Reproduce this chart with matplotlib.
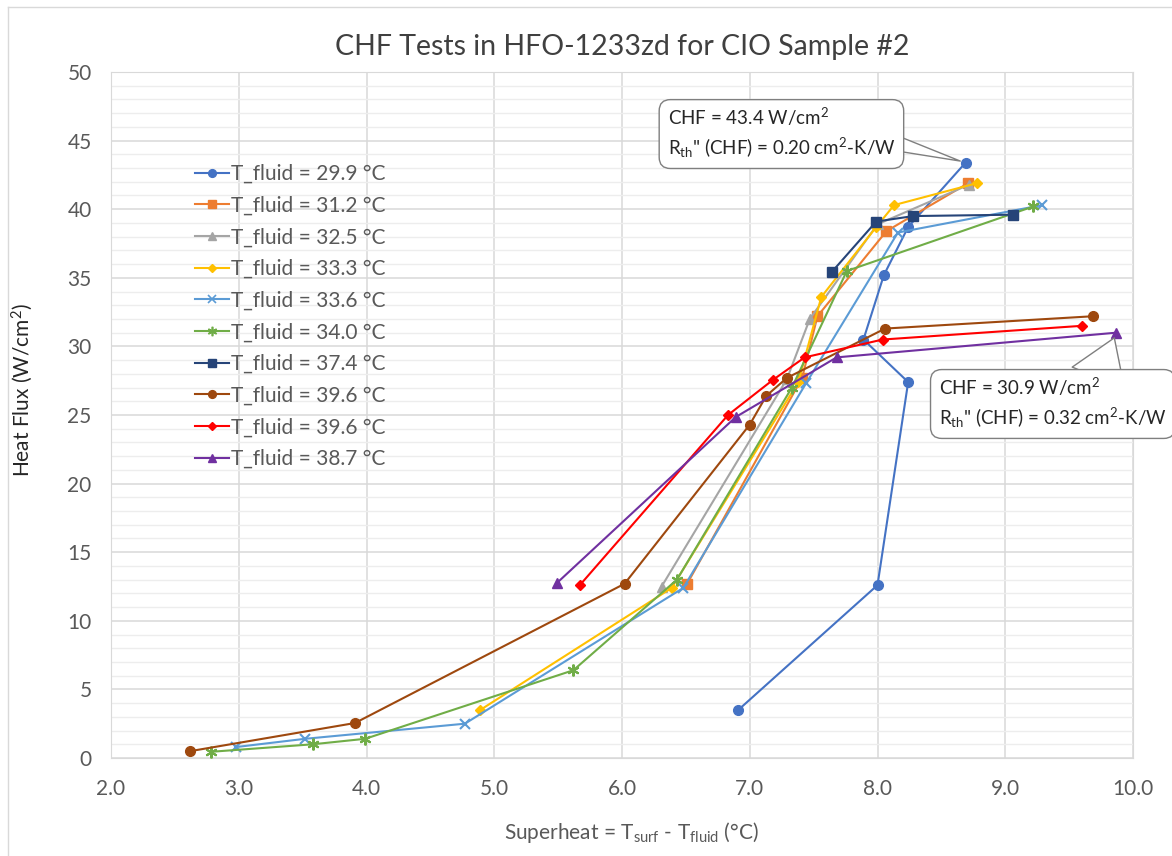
import numpy as np
import matplotlib.pyplot as plt
from matplotlib.ticker import MultipleLocator
from matplotlib.lines import Line2D

plt.rcParams['font.family'] = ['Lato', 'DejaVu Sans']
plt.rcParams['mathtext.default'] = 'regular'

# data: superheat (C) and heat flux (W/cm2) per run
labels = ['T_fluid = 29.9 °C', 'T_fluid = 31.2 °C', 'T_fluid = 32.5 °C',
          'T_fluid = 33.3 °C', 'T_fluid = 33.6 °C', 'T_fluid = 34.0 °C',
          'T_fluid = 37.4 °C', 'T_fluid = 39.6 °C', 'T_fluid = 39.6 °C',
          'T_fluid = 38.7 °C']

x_299 = [6.91, 8.00, 8.24, 7.89, 8.05, 8.24, 8.69]
q_299 = [3.5, 12.6, 27.4, 30.5, 35.2, 38.7, 43.4]

x_312 = [6.51, 7.41, 7.53, 8.07, 8.71]
q_312 = [12.7, 27.7, 32.2, 38.4, 41.9]

x_325 = [6.31, 7.29, 7.47, 8.00, 8.72]
q_325 = [12.5, 27.6, 32.0, 38.9, 41.8]

x_333 = [4.89, 6.39, 7.38, 7.56, 7.99, 8.13, 8.78]
q_333 = [3.5, 12.4, 27.4, 33.6, 38.7, 40.3, 41.9]

x_336 = [2.98, 3.52, 4.77, 6.48, 7.44, 8.16, 9.29]
q_336 = [0.8, 1.4, 2.5, 12.4, 27.3, 38.3, 40.3]

x_340 = [2.78, 3.58, 3.99, 5.62, 6.43, 7.33, 7.76, 9.22]
q_340 = [0.45, 1.0, 1.4, 6.4, 13.0, 27.0, 35.5, 40.2]

x_374 = [7.64, 7.99, 8.28, 9.06]
q_374 = [35.4, 39.1, 39.5, 39.6]

x_396a = [2.62, 3.91, 6.02, 7.00, 7.13, 7.29, 8.06, 9.69]
q_396a = [0.5, 2.55, 12.7, 24.3, 26.4, 27.7, 31.3, 32.2]

x_396b = [5.67, 6.83, 7.18, 7.43, 8.04, 9.60]
q_396b = [12.6, 25.0, 27.55, 29.2, 30.5, 31.5]

x_387 = [5.49, 6.89, 7.68, 9.87]
q_387 = [12.75, 24.85, 29.2, 31.0]

xs = [x_299, x_312, x_325, x_333, x_336, x_340, x_374, x_396a, x_396b, x_387]
qs = [q_299, q_312, q_325, q_333, q_336, q_340, q_374, q_396a, q_396b, q_387]

colors = ['#4472C4', '#ED7D31', '#A5A5A5', '#FFC000', '#5B9BD5',
          '#70AD47', '#264478', '#9E480E', '#FF0000', '#7030A0']
markers = ['o', 's', '^', 'D', 'x', (6, 2, 0), 's', 'o', 'D', '^']
msizes = [7, 7, 7, 5.5, 7.5, 8.5, 7, 7, 5.5, 7]

grey = '#595959'

fig = plt.figure(figsize=(11.72, 8.56), dpi=100)
ax = fig.add_axes([111 / 1172, 1 - 758 / 856, 1022 / 1172, 686 / 856])

for x, q, c, m, ms, lab in zip(xs, qs, colors, markers, msizes, labels):
    mew = 1.5 if m in ('x', (6, 2, 0)) else 1
    ax.plot(x, q, color=c, lw=1.5, marker=m, ms=ms, mew=mew, label=lab, zorder=3)

ax.set_xlim(2, 10)
ax.set_ylim(0, 50)
ax.xaxis.set_major_locator(MultipleLocator(1))
ax.yaxis.set_major_locator(MultipleLocator(5))
ax.yaxis.set_minor_locator(MultipleLocator(1))
ax.xaxis.set_major_formatter(plt.FuncFormatter(lambda v, p: '%.1f' % v))
ax.grid(which='major', color='#D9D9D9', lw=1.1, zorder=0)
ax.grid(which='minor', axis='y', color='#EDEDED', lw=1, zorder=0)
ax.set_axisbelow(True)
for s in ax.spines.values():
    s.set_color('#D9D9D9')
ax.tick_params(which='both', length=0, labelsize=15, labelcolor=grey)
ax.tick_params(axis='x', pad=15)
ax.tick_params(axis='y', pad=14)

ax.set_title('CHF Tests in HFO-1233zd for CIO Sample #2', fontsize=20.5,
             color='#404040', pad=12)
ax.set_xlabel('Superheat = T$_{surf}$ - T$_{fluid}$ (°C)', fontsize=15, color=grey)
ax.xaxis.set_label_coords(0.509, -0.09)
ax.set_ylabel('Heat Flux (W/cm$^2$)', fontsize=15, color='#262626')
ax.yaxis.set_label_coords(-0.074, 0.536)

handles = [Line2D([], [], color=c, lw=1.5, marker=m, ms=ms * 0.8,
                  mew=1.2 if m in ('x', (6, 2, 0)) else 1)
           for c, m, ms in zip(colors, markers, msizes)]
ax.legend(handles, labels, loc='upper left', bbox_to_anchor=(0.082, 0.866),
          frameon=False, fontsize=15, labelcolor=grey, handlelength=1.63,
          handletextpad=0.12, labelspacing=0.56, borderpad=0, borderaxespad=0)

# callouts for the two CHF points
i1 = int(np.argmax(q_299))
ax.annotate('CHF = 43.4 W/cm$^2$\nR$_{th}$" (CHF) = 0.20 cm$^2$-K/W',
            xy=(x_299[i1], q_299[i1]), xycoords='data',
            xytext=(0.656, 0.911), textcoords='axes fraction',
            ha='center', va='center', multialignment='left',
            fontsize=13.5, color='#262626', linespacing=1.4,
            bbox=dict(boxstyle='round,pad=0.45,rounding_size=0.6', fc='white',
                      ec='#7F7F7F', lw=1),
            arrowprops=dict(arrowstyle='wedge,tail_width=0.9,shrink_factor=0.5',
                            fc='white', ec='#7F7F7F', lw=1, relpos=(0.97, 0.35),
                            patchA=None, shrinkA=0, shrinkB=4),
            annotation_clip=False, zorder=5)

i2 = int(np.argmax(x_387))
ax.annotate('CHF = 30.9 W/cm$^2$\nR$_{th}$" (CHF) = 0.32 cm$^2$-K/W',
            xy=(x_387[i2], q_387[i2]), xycoords='data',
            xytext=(0.9215, 0.5175), textcoords='axes fraction',
            ha='center', va='center', multialignment='left',
            fontsize=13.5, color='#262626', linespacing=1.4,
            bbox=dict(boxstyle='round,pad=0.45,rounding_size=0.6', fc='white',
                      ec='#7F7F7F', lw=1),
            arrowprops=dict(arrowstyle='wedge,tail_width=3.0,shrink_factor=0.5',
                            fc='white', ec='#7F7F7F', lw=1, relpos=(0.7, 0.97),
                            patchA=None, shrinkA=0, shrinkB=4),
            annotation_clip=False, zorder=5)

# chart area border
fig.add_artist(Line2D([8 / 1172, 8 / 1172], [0, 1 - 7 / 856], color='#D9D9D9', lw=1))
fig.add_artist(Line2D([8 / 1172, 1], [1 - 7 / 856, 1 - 7 / 856], color='#D9D9D9', lw=1))

fig.savefig('out.png', dpi=100)
